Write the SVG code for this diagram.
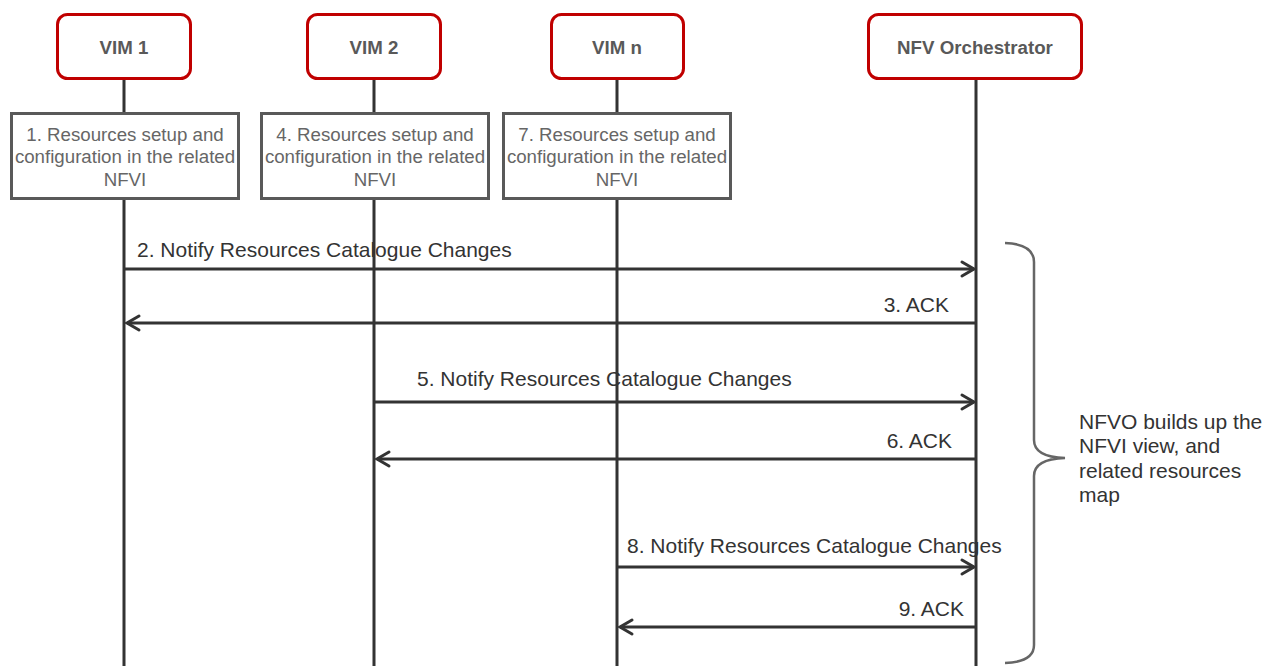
<svg xmlns="http://www.w3.org/2000/svg" width="1263" height="666" viewBox="0 0 1263 666">
<style>
.actor{fill:#fff;stroke:#c00000;stroke-width:3}
.atxt{font-family:"Liberation Sans",Arial,sans-serif;font-size:18.7px;font-weight:bold;fill:#595959;text-anchor:middle}
.note{fill:#fff;stroke:#595959;stroke-width:3}
.ntxt{font-family:"Liberation Sans",Arial,sans-serif;font-size:18.7px;fill:#666;text-anchor:middle}
.mtxt{font-family:"Liberation Sans",Arial,sans-serif;font-size:21px;fill:#333}
.life{stroke:#333;stroke-width:3;fill:none}
.msg{stroke:#333;stroke-width:3;fill:none}
.head{stroke:#333;stroke-width:3;fill:none;stroke-linecap:round}
</style>
<rect width="1263" height="666" fill="#fff"/>
<g id="labels">
<text class="mtxt" x="137" y="257">2. Notify Resources Catalogue Changes</text>
<text class="mtxt" x="949" y="312" text-anchor="end">3. ACK</text>
<text class="mtxt" x="417" y="386">5. Notify Resources Catalogue Changes</text>
<text class="mtxt" x="952" y="448" text-anchor="end">6. ACK</text>
<text class="mtxt" x="627" y="553">8. Notify Resources Catalogue Changes</text>
<text class="mtxt" x="964" y="616" text-anchor="end">9. ACK</text>
</g>
<g id="lifelines">
<line class="life" x1="124" y1="79" x2="124" y2="666"/>
<line class="life" x1="374" y1="79" x2="374" y2="666"/>
<line class="life" x1="617" y1="79" x2="617" y2="666"/>
<line class="life" x1="976" y1="79" x2="976" y2="666"/>
</g>
<g id="vim1">
<rect class="actor" x="57.5" y="14.5" width="133" height="64" rx="10"/>
<text class="atxt" x="124" y="54">VIM 1</text>
</g>
<g id="vim2">
<rect class="actor" x="307.5" y="14.5" width="133" height="64" rx="10"/>
<text class="atxt" x="374" y="54">VIM 2</text>
</g>
<g id="vimn">
<rect class="actor" x="551.5" y="14.5" width="132" height="64" rx="10"/>
<text class="atxt" x="617" y="54">VIM n</text>
</g>
<g id="nfvo">
<rect class="actor" x="868.5" y="14.5" width="213" height="64" rx="10"/>
<text class="atxt" x="975" y="54">NFV Orchestrator</text>
</g>
<g id="note1">
<rect class="note" x="11.5" y="113.5" width="227" height="85"/>
<text class="ntxt" x="125" y="141">1. Resources setup and</text>
<text class="ntxt" x="125" y="163">configuration in the related</text>
<text class="ntxt" x="125" y="186">NFVI</text>
</g>
<g id="note4">
<rect class="note" x="261.5" y="113.5" width="227" height="85"/>
<text class="ntxt" x="375" y="141">4. Resources setup and</text>
<text class="ntxt" x="375" y="163">configuration in the related</text>
<text class="ntxt" x="375" y="186">NFVI</text>
</g>
<g id="note7">
<rect class="note" x="503.5" y="113.5" width="227" height="85"/>
<text class="ntxt" x="617" y="141">7. Resources setup and</text>
<text class="ntxt" x="617" y="163">configuration in the related</text>
<text class="ntxt" x="617" y="186">NFVI</text>
</g>
<g id="connectors">
<line class="msg" x1="124" y1="269" x2="974" y2="269"/>
<polyline class="head" points="962,262 974,269 962,276"/>
<line class="msg" x1="976" y1="323" x2="127" y2="323"/>
<polyline class="head" points="139,316 127,323 139,330"/>
<line class="msg" x1="374" y1="402" x2="974" y2="402"/>
<polyline class="head" points="962,395 974,402 962,409"/>
<line class="msg" x1="976" y1="459" x2="377" y2="459"/>
<polyline class="head" points="389,452 377,459 389,466"/>
<line class="msg" x1="617" y1="567" x2="974" y2="567"/>
<polyline class="head" points="962,560 974,567 962,574"/>
<line class="msg" x1="976" y1="627" x2="620" y2="627"/>
<polyline class="head" points="632,620 620,627 632,634"/>
</g>
<g id="brace">
<path d="M1005,243 Q1034,244 1034,262 L1034,440 Q1034,457 1065,458 Q1034,459 1034,476 L1034,645 Q1034,662 1005,663" fill="none" stroke="#666" stroke-width="2.5"/>
<text class="mtxt" x="1079" y="429">NFVO builds up the</text>
<text class="mtxt" x="1079" y="453">NFVI view, and</text>
<text class="mtxt" x="1079" y="478">related resources</text>
<text class="mtxt" x="1079" y="502">map</text>
</g>
</svg>
